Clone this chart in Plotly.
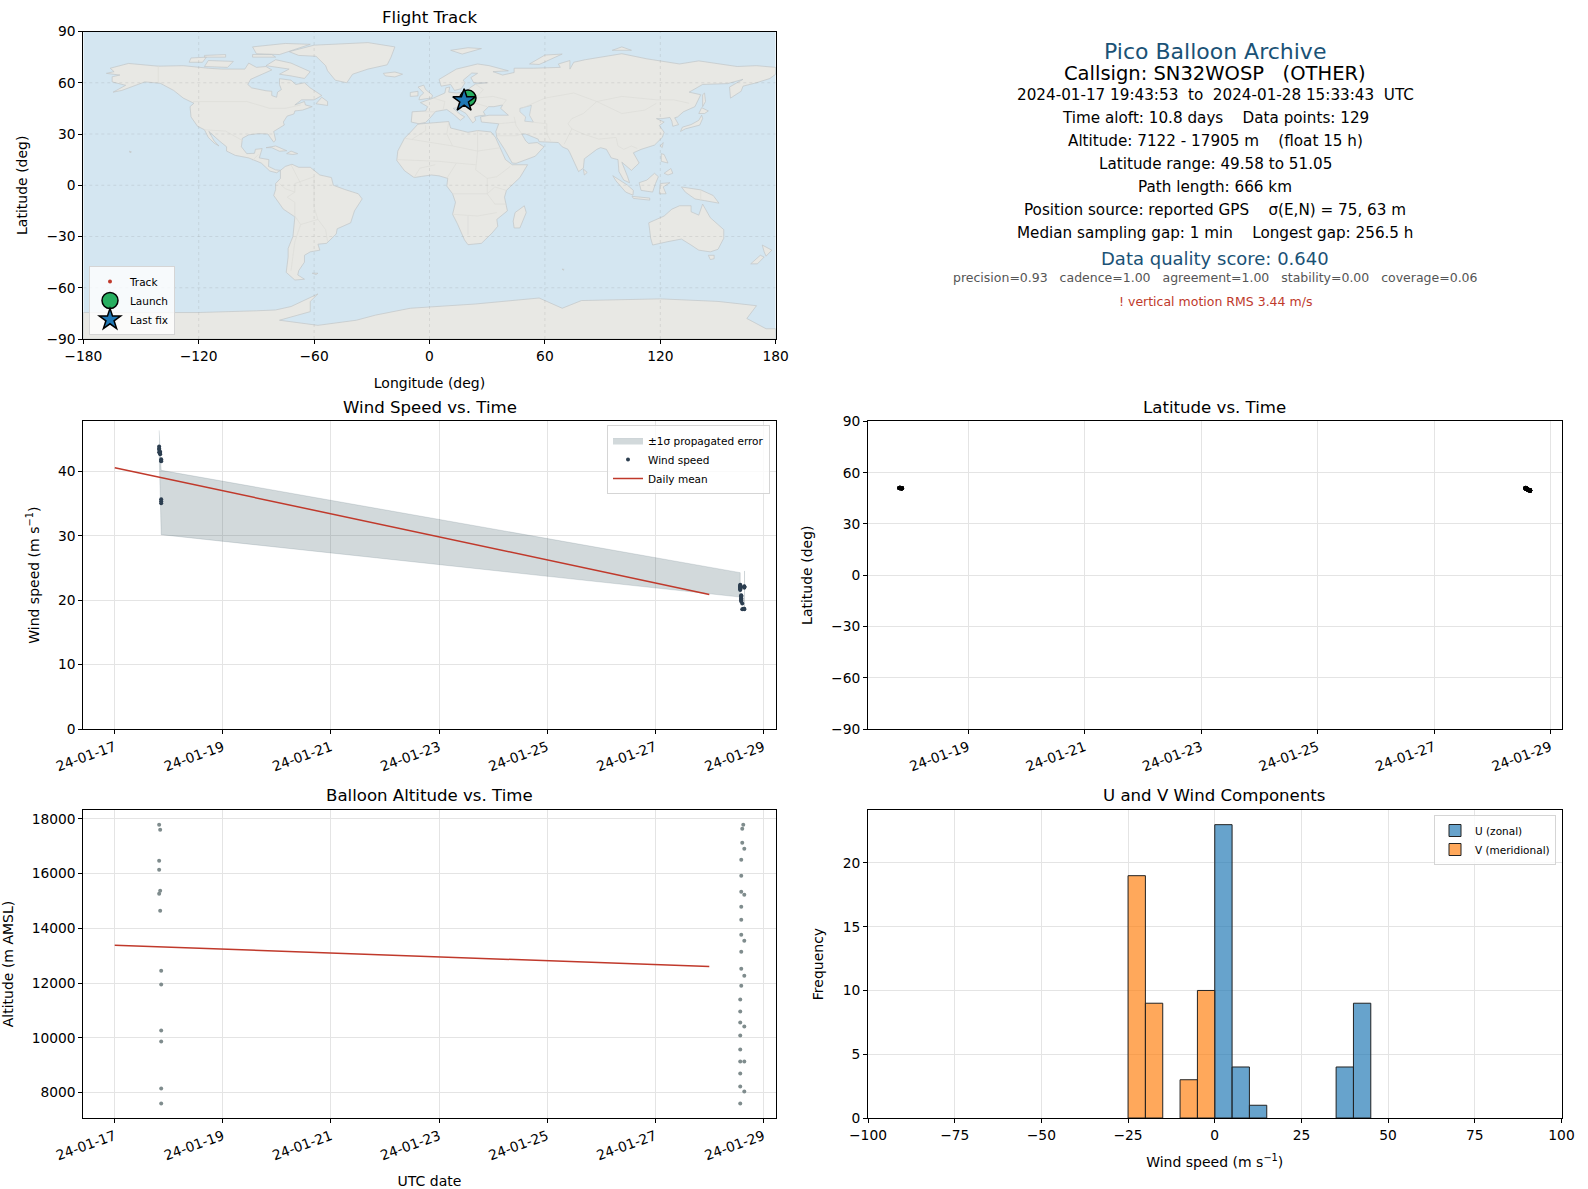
import plotly.graph_objects as go

# times of the fixes, two bursts at each end of the flight
left_times = ["19:43", "20:10", "19:43", "19:43", "20:10", "19:43", "20:10",
              "20:37", "20:37", "20:37", "20:37", "20:37", "20:37"]
right_times = ["15:06", "14:39", "14:39", "15:33", "14:12", "14:12", "14:12", "15:33",
               "14:12", "14:12", "14:12", "15:33", "14:12", "14:12", "15:33", "14:12",
               "13:45", "13:45", "13:45", "15:33", "13:45", "13:45", "13:45", "15:33",
               "13:45", "13:45", "15:33", "13:45"]
times = ["2024-01-17 " + t for t in left_times] + ["2024-01-28 " + t for t in right_times]

wind_speed = [43.0, 42.7, 43.9, 43.6, 42.9, 43.4, 43.1, 41.9, 41.7, 41.6, 35.7, 35.4, 35.1,
              18.7, 19.5, 18.6, 18.6, 20.8, 20.5, 20.2, 18.7, 20.0, 19.8, 20.6, 22.1, 20.3, 20.1,
              22.0, 20.7, 22.4, 22.3, 22.0, 22.2, 21.8, 21.6, 22.1, 22.1, 22.2, 21.9, 22.0, 21.7]
altitude = [17781, 17600, 16467, 16139, 15372, 15263, 14642, 12453, 11942, 10263, 9861, 8146, 7600,
            17781, 17635, 17124, 16905, 16504, 15920, 15336, 15226, 14788, 14314, 13766, 13547,
            13146, 12526, 12270, 11905, 11394, 10956, 10555, 10409, 10080, 9569, 9131, 9131,
            8693, 8219, 8036, 7600]
latitude = [51.0, 51.0, 51.05, 51.05, 51.0, 51.03, 50.98, 50.95, 50.95, 50.93, 50.95, 50.92, 50.9,
            49.7, 50.0, 50.1, 49.58, 50.5, 50.45, 50.5, 49.6, 50.4, 50.5, 50.55, 49.62, 50.5, 50.45,
            49.6, 50.5, 50.95, 51.0, 50.9, 49.65, 50.95, 50.85, 50.9, 49.6, 50.95, 51.0, 49.62, 50.9]
longitude = [20.0, 20.0, 20.1, 20.1, 20.0, 20.1, 20.0, 19.9, 19.9, 19.9, 19.8, 19.8, 19.8,
             18.5, 18.5, 18.6, 18.0, 18.8, 18.8, 18.8, 18.1, 18.9, 18.9, 18.8, 18.1, 18.8, 18.9,
             18.1, 18.9, 19.0, 19.0, 19.1, 18.2, 19.1, 19.1, 19.0, 18.2, 19.0, 19.1, 18.2, 19.1]

launch_lon, launch_lat = [20.0], [51.0]
last_lon, last_lat = [18.0], [49.6]

mean_days = ["2024-01-17", "2024-01-28"]
mean_wind = [40.6, 20.9]
mean_alt = [13380, 12600]

band_t = ["2024-01-17 19:43", "2024-01-17 20:10", "2024-01-17 20:37", "2024-01-28 13:45"]
band_hi = [46.4, 44.0, 40.2, 24.3]
band_lo = [43.0, 36.0, 30.2, 20.5]
sliver_t = ["2024-01-28 15:25", "2024-01-28 15:40"]
sliver_hi = [24.5, 24.5]
sliver_lo = [18.6, 18.6]

wind_ticks = ["2024-01-17", "2024-01-19", "2024-01-21", "2024-01-23", "2024-01-25", "2024-01-27", "2024-01-29"]
lat_ticks = wind_ticks[1:]

u_centers = [2.5, 7.5, 12.5, 37.5, 42.5]
u_counts = [23, 4, 1, 4, 9]
v_centers = [-22.5, -17.5, -7.5, -2.5]
v_counts = [19, 9, 3, 10]

info_lines = [
    ("Pico Balloon Archive", 22, "#1a5276", 51),
    ("Callsign: SN32WOSP   (OTHER)", 19.5, "black", 73),
    ("2024-01-17 19:43:53  to  2024-01-28 15:33:43  UTC", 15.2, "black", 95),
    ("Time aloft: 10.8 days    Data points: 129", 15.2, "black", 118),
    ("Altitude: 7122 - 17905 m    (float 15 h)", 15.2, "black", 141),
    ("Latitude range: 49.58 to 51.05", 15.2, "black", 164),
    ("Path length: 666 km", 15.2, "black", 187),
    ("Position source: reported GPS    σ(E,N) = 75, 63 m", 15.2, "black", 210),
    ("Median sampling gap: 1 min    Longest gap: 256.5 h", 15.2, "black", 233),
    ("Data quality score: 0.640", 18, "#1a5276", 258),
    ("precision=0.93   cadence=1.00   agreement=1.00   stability=0.00   coverage=0.06", 12.5, "#555555", 278),
    ("! vertical motion RMS 3.44 m/s", 12.5, "#c0392b", 301),
]

# rough coastlines, lon/lat pairs
land = [
    [(-168,65.5),(-164,66.5),(-166,68.5),(-156.5,71.3),(-141,69.7),(-128,70),(-115,68.5),(-108,68),(-96,68),(-94,71.5),(-90,69),(-85,69.5),(-82,67.5),(-87,65),(-93,62),(-94.5,59),(-92.5,57),(-85,55.3),(-82,55),(-82,52.5),(-79.5,51.5),(-79,54.5),(-77,56),(-78,59),(-78,62.4),(-72,61.5),(-69.5,59),(-65,60),(-62,57),(-56,52.5),(-60,50),(-66.5,50),(-70,47),(-65,49),(-64.5,47),(-61,46),(-66,44),(-70,43.5),(-70.5,41.7),(-74,40.5),(-76,37),(-75.5,35.3),(-81,31.5),(-80,26.5),(-81,25.2),(-82.8,28),(-84,30),(-89,30.2),(-94,29.5),(-97.3,27.5),(-97.8,22.5),(-95,18.5),(-91,18.7),(-90.5,21),(-87,21.5),(-88.5,16),(-83.5,15),(-83.7,11),(-80,9),(-77.5,8.7),(-79.5,7.3),(-83,8.3),(-87.5,13),(-94,16),(-101,17.5),(-105.5,20),(-105.5,22.5),(-109,25.7),(-112.5,29.5),(-114.7,31.5),(-112,26),(-109.5,23),(-112,24.7),(-115,28),(-117,32.5),(-120.6,34.5),(-124,40),(-124.5,46),(-122.5,48),(-128,51),(-133,55.5),(-140,59.7),(-148,60.5),(-154,58),(-160,55.5),(-164.5,54.5),(-158,58.5),(-165,60.5),(-165,63.5),(-161,64.5)],
    [(-73,78.2),(-60,82),(-32,83.5),(-18,81),(-20,75),(-22,70.5),(-32,68),(-40,65),(-43,60),(-49,61.5),(-53,67),(-54,70),(-59,75.5),(-68,76)],
    [(-80,73.5),(-72,71.5),(-62,66.5),(-65,62.5),(-72,64),(-78,65),(-73,68),(-85,70)],
    [(-117,69.5),(-105,69),(-102,72.5),(-115,73)],
    [(-90,77),(-78,76.5),(-62,82.5),(-75,83),(-92,81)],
    [(-125,72),(-118,72),(-116,75),(-124,74.5)],
    [(-92,75),(-80,75),(-82,76.5),(-92,76.5)],
    [(-117,75),(-106,75),(-106,76.5),(-117,76)],
    [(-59,47.7),(-53,46.7),(-53,49),(-56,51.5)],
    [(-85,22),(-80,23),(-74.2,20.2),(-78,19.9),(-82,22)],
    [(-74.3,18.5),(-72,20),(-68.5,18.5),(-71,18)],
    [(-24,65.5),(-18,66.3),(-14,65),(-18,63.4),(-23,64)],
    [(-77.5,8.7),(-75,11),(-71.5,12.3),(-68,10.5),(-62,10.5),(-57,6),(-51,4.5),(-50,0),(-44,-2.5),(-37,-5),(-35,-8),(-39,-15),(-41,-22),(-48,-25.5),(-48.5,-28.5),(-53.5,-34),(-58,-34.5),(-57,-38),(-62,-39),(-65,-41),(-65,-45),(-68,-50),(-68.5,-52.5),(-65,-55),(-70,-55.5),(-74.5,-51),(-73.5,-42),(-73.5,-37),(-71,-30),(-70,-18.5),(-76,-14),(-81,-6),(-80,-2.5),(-80,1),(-77.5,4)],
    [(-6,35.8),(3,36.8),(10,37.3),(11,33.5),(15,32.3),(20,31),(25,32),(32,31.2),(34.3,28),(37,21),(39.5,15),(43,12),(51,12),(47,4.5),(40,-3),(39,-7),(40.5,-15),(35,-20),(35.5,-24),(32.5,-28),(27,-34),(20,-34.8),(18.2,-32),(14.5,-22.5),(12,-17),(13.5,-10),(12,-5),(9,-0.5),(9.5,4),(5,5.5),(1,6),(-4,5.2),(-8,4.5),(-13,8.5),(-17,14.5),(-16.5,20),(-13,27.5),(-9.5,31.5)],
    [(49.3,-12),(50.3,-16),(47,-25),(44,-25),(43.5,-21),(44.5,-16)],
    [(-9.5,37),(-9,43),(-2,43.5),(-1,46),(-4.7,48.4),(2,51),(8,54),(8.5,57),(10.5,57.5),(10,54.5),(14,54),(19,54.5),(21,57),(24,59.3),(30,60),(23,60),(21.5,63),(25,65.5),(22,65.7),(17.5,61.5),(18.5,60),(16.5,56.5),(13,55.5),(11,59),(6,58),(5,62),(14,68),(25,71),(31,70),(41,67),(33,66.5),(38,64.5),(44,66),(44,68.5),(54,68.5),(68,69),(67,71),(73,73),(73,68),(75,72),(81,73.5),(100,77),(113,74),(130,71),(140,72.8),(160,69.5),(170,70),(180,69),(180,65),(177,62.5),(170,60),(163,58),(162,55),(156.5,51),(156,57.5),(163,62),(155,59.5),(142,59),(135,54.5),(141,53),(138,46),(132,43),(129,40),(127.5,39.5),(129.5,35.5),(126.5,34.5),(126,37.5),(125,39.7),(121,39),(118,39),(122,37),(119.5,35),(122,31),(121,28),(117,23.5),(110,21),(106,19),(109,13),(105,8.7),(100,13.5),(103,5),(104,1.5),(101,3),(98.5,8),(98,15),(94.5,16),(92,21),(89,22),(87,21),(80.5,15.5),(80,10),(77.5,8),(73,19),(72,21),(69,22.5),(67,25),(57,25.5),(56.5,27),(50,30),(48,30),(50,26),(51.5,24.5),(56,25),(59.5,22.5),(55,17),(45,12.8),(43,13),(39,21),(35,28),(34.5,31.5),(36,36),(30,36.5),(27,37),(26.5,40),(31,41),(41,41),(37,45),(38,47),(33.5,46),(30.7,46),(28,43),(29,41),(26,40.7),(23.5,40),(24,38),(22.5,36.5),(19.5,41),(19,42),(14,45.3),(12.3,45),(16,41.5),(18.3,40),(16,38),(12.5,41.5),(9,44.3),(3.2,43.2),(0,39),(-2,36.8),(-5.5,36)],
    [(-5.5,50),(1.3,51.2),(1.5,52.8),(-2,56),(-3,58.6),(-6,57.5),(-3,54),(-5,52)],
    [(-10,52),(-6,52.3),(-6,55),(-10,54.3)],
    [(11,79),(20,80.5),(27,80),(17,76.8)],
    [(52,71),(57,70.7),(69,76.8),(60,76.2)],
    [(95,79),(105,79),(100,81)],
    [(142,46),(143.5,49),(143,54),(142,53)],
    [(130.5,31.5),(131.5,34),(136,35.5),(140,38),(141.5,41),(142,39),(140.5,35.2),(136,33.7),(133,33)],
    [(140,42),(141.5,45.4),(145,43.5),(143,42)],
    [(120,23),(121.5,25),(121,22)],
    [(80,9.5),(82,7.5),(80.5,6)],
    [(120.5,18.5),(122,18),(124,13),(120.5,14)],
    [(122,7),(125.5,9.8),(126.5,7),(124,6)],
    [(109,1.5),(113,3),(117,7),(119,5),(117.5,1),(116,-4),(110,-3)],
    [(95.3,5.6),(103,0),(106,-3),(105.8,-5.8),(102,-4),(97,2.5)],
    [(105.3,-6.5),(114.5,-7.5),(114.5,-8.7),(106,-7.7)],
    [(119.5,-5),(120,1),(125,1.5),(121.5,-1),(123,-5)],
    [(131,-1),(137,-2),(141,-2.7),(147.5,-6),(150.5,-10.5),(143,-9),(138,-8),(133,-4)],
    [(114,-22),(122,-18),(126,-14),(130,-12),(136,-12),(136,-15.5),(140,-17.5),(142,-11),(146,-19),(153,-26),(153,-31),(150,-37.5),(146,-39),(140,-38),(136,-35),(131,-31.5),(124,-33),(116,-35),(115,-31)],
    [(145,-41),(148,-41),(148,-43),(146,-43.5)],
    [(173,-35),(178,-38),(175,-41.5),(174,-39)],
    [(172,-41),(174,-42),(170.5,-46),(167,-46)],
    [(-156,20),(-155,19.5),(-155.7,19)],
    [(-61,-51.5),(-58,-51.5),(-59,-52.3)],
    [(69,-49),(70,-49.3),(69.5,-49.8)],
    [(-180,-74.5),(-120,-74.5),(-90,-73.5),(-80,-73),(-72,-71),(-62,-66),(-58,-63.6),(-62,-68),(-62,-74),(-78,-79),(-58,-82),(-38,-79),(-28,-76),(-10,-72),(24,-69.5),(57,-66),(69,-72),(79,-67.5),(120,-66.5),(150,-68),(170,-70.5),(165,-78),(175,-84),(180,-84),(180,-90),(-180,-90)],
]
inland_water = [
    [(47,45),(53,46.8),(52,41),(54,37),(49.5,37.5),(50,40),(47,43)],
]
borders = [
    [(-123,49),(-95,49),(-83,45),(-75,45),(-67,47)],
    [(-141,70),(-141,60)],
    [(-117,32.5),(-106,31.7),(-97,26)],
    [(-92,14.5),(-89,18)],
    [(-70,-18),(-70,-10),(-74,-7),(-70,-4),(-70,1),(-60,5),(-60,-13),(-58,-20),(-54,-26),(-53,-33)],
    [(-70,-18),(-67,-23),(-70,-33),(-72,-50)],
    [(-67,-23),(-58,-20)],
    [(-78,1),(-75,-2),(-70,-4)],
    [(-72,12),(-67,1)],
    [(-9,27),(-2,32),(-2,35)],
    [(-13,27.5),(12,23),(25,20),(37,22)],
    [(10,37),(9,30),(12,23)],
    [(25,32),(25,20),(24,9),(30,4),(35,5),(42,11)],
    [(-17,15),(5,14),(14,13),(24,12)],
    [(-8,4.5),(-5,10),(3,12)],
    [(9,4),(14,13)],
    [(12,-5),(30,-5),(30,4)],
    [(12,-17),(25,-18),(35,-16)],
    [(20,-29),(20,-18)],
    [(40,-3),(34,-1),(30,-5),(34,-11),(40,-11)],
    [(-2,43),(3,43)],
    [(2,51),(8,49),(7,44)],
    [(14,54),(15,48),(24,48),(30,46)],
    [(24,59),(28,56),(24,51),(33,52),(40,50),(38,47)],
    [(48,45),(60,51),(75,54),(87,49),(100,52),(118,50),(127,50),(135,48)],
    [(53,37),(61,36),(61,30),(63,26)],
    [(48,30),(45,35),(44,40)],
    [(36,36),(45,37)],
    [(35,29),(45,29),(48,30)],
    [(72,36),(74,33),(70,24)],
    [(74,33),(80,30),(88,27),(97,28),(98,23),(101,21),(105,23),(108,21.5)],
    [(87,49),(80,42),(74,39),(72,36)],
    [(87,49),(100,42),(112,44),(118,48)],
    [(141,-2.7),(141,-9)],
]

# pixel boxes of the panels in the 1588x1189 page
W, H = 1588, 1189
boxes = {
    "map": (83.3, 775.7, 31.5, 339),
    "wind": (83.3, 775.7, 421.4, 729),
    "lat": (868, 1561.5, 421.4, 729),
    "alt": (83.3, 775.7, 810, 1118),
    "hist": (868, 1561.5, 810, 1118),
}


def dom(name):
    x0, x1, y0, y1 = boxes[name]
    return [x0 / W, x1 / W], [1 - y1 / H, 1 - y0 / H]


def rings(polys):
    xs, ys = [], []
    for p in polys:
        xs += [q[0] for q in p] + [p[0][0], None]
        ys += [q[1] for q in p] + [p[0][1], None]
    return xs, ys


def lines(polys):
    xs, ys = [], []
    for p in polys:
        xs += [q[0] for q in p] + [None]
        ys += [q[1] for q in p] + [None]
    return xs, ys


fig = go.Figure()
GRID = "#e4e4e4"
FONT = "DejaVu Sans"

# map panel
land_x, land_y = rings(land)
fig.add_trace(go.Scatter(x=land_x, y=land_y, mode="lines", fill="toself", fillcolor="#e8e8e4",
                         line=dict(color="#c2c6c7", width=0.7), hoverinfo="skip", showlegend=False))
water_x, water_y = rings(inland_water)
fig.add_trace(go.Scatter(x=water_x, y=water_y, mode="lines", fill="toself", fillcolor="#d4e6f1",
                         line=dict(color="#c2c6c7", width=0.6), hoverinfo="skip", showlegend=False))
bx, by = lines(borders)
fig.add_trace(go.Scatter(x=bx, y=by, mode="lines", line=dict(color="#dcdcd8", width=0.7),
                         hoverinfo="skip", showlegend=False))
# grid sits over the land in the original
grid_x, grid_y = [], []
for lon in [-120, -60, 0, 60, 120]:
    grid_x += [lon, lon, None]
    grid_y += [-90, 90, None]
for lat in [-60, -30, 0, 30, 60]:
    grid_x += [-180, 180, None]
    grid_y += [lat, lat, None]
fig.add_trace(go.Scatter(x=grid_x, y=grid_y, mode="lines",
                         line=dict(color="rgba(120,120,120,0.22)", width=0.7, dash="dot"),
                         hoverinfo="skip", showlegend=False))
fig.add_trace(go.Scatter(x=longitude, y=latitude, mode="markers", name="Track",
                         marker=dict(color="#c0392b", size=4), legend="legend"))
fig.add_trace(go.Scatter(x=launch_lon, y=launch_lat, mode="markers", name="Launch",
                         marker=dict(color="#27ae60", size=16, line=dict(color="black", width=1.5)),
                         legend="legend"))
fig.add_trace(go.Scatter(x=last_lon, y=last_lat, mode="markers", name="Last fix",
                         marker=dict(color="#1f77b4", size=17, symbol="star", line=dict(color="black", width=1.5)),
                         legend="legend"))

# wind panel
fig.add_trace(go.Scatter(x=band_t + band_t[::-1], y=band_hi + band_lo[::-1], mode="lines", fill="toself",
                         fillcolor="rgba(50,80,90,0.22)", line=dict(color="rgba(50,80,90,0.14)", width=1),
                         name="±1σ propagated error", xaxis="x2", yaxis="y2", legend="legend2"))
fig.add_trace(go.Scatter(x=sliver_t + sliver_t[::-1], y=sliver_hi + sliver_lo[::-1], mode="lines", fill="toself",
                         fillcolor="rgba(50,80,90,0.22)", line=dict(color="rgba(50,80,90,0.14)", width=1),
                         showlegend=False, hoverinfo="skip", xaxis="x2", yaxis="y2"))
fig.add_trace(go.Scatter(x=times, y=wind_speed, mode="markers", name="Wind speed",
                         marker=dict(color="#2c3e50", size=4), xaxis="x2", yaxis="y2", legend="legend2"))
fig.add_trace(go.Scatter(x=mean_days, y=mean_wind, mode="lines", name="Daily mean",
                         line=dict(color="#c0392b", width=1.5), xaxis="x2", yaxis="y2", legend="legend2"))

# latitude panel
fig.add_trace(go.Scatter(x=times, y=latitude, mode="markers", marker=dict(color="black", size=4.5),
                         showlegend=False, xaxis="x3", yaxis="y3"))

# altitude panel
fig.add_trace(go.Scatter(x=times, y=altitude, mode="markers", marker=dict(color="#7f8c8d", size=4),
                         showlegend=False, xaxis="x4", yaxis="y4"))
fig.add_trace(go.Scatter(x=mean_days, y=mean_alt, mode="lines", line=dict(color="#c0392b", width=1.5),
                         showlegend=False, xaxis="x4", yaxis="y4"))

# histogram panel
fig.add_trace(go.Bar(x=u_centers, y=u_counts, width=5, name="U (zonal)",
                     marker=dict(color="rgba(31,119,180,0.68)", line=dict(color="#222222", width=1)),
                     xaxis="x5", yaxis="y5", legend="legend3"))
fig.add_trace(go.Bar(x=v_centers, y=v_counts, width=5, name="V (meridional)",
                     marker=dict(color="rgba(255,127,14,0.68)", line=dict(color="#222222", width=1)),
                     xaxis="x5", yaxis="y5", legend="legend3"))

axis_style = dict(showline=True, mirror=True, linecolor="black", linewidth=1, ticks="outside", ticklen=4,
                  tickcolor="black", showgrid=True, gridcolor=GRID, gridwidth=1, zeroline=False,
                  automargin=False, tickfont=dict(size=13.8, color="black"))
map_axis = {k: v for k, v in axis_style.items() if k != "showgrid"}
label = dict(font=dict(size=14, color="black"))

xd, yd = dom("map")
fig.update_layout(
    xaxis=dict(domain=xd, anchor="y", range=[-180, 180], tickvals=[-180, -120, -60, 0, 60, 120, 180],
               title=dict(text="Longitude (deg)", **label), showgrid=False, **map_axis),
    yaxis=dict(domain=yd, anchor="x", range=[-90, 90], tickvals=[-90, -60, -30, 0, 30, 60, 90],
               title=dict(text="Latitude (deg)", **label), showgrid=False, **map_axis),
)
xd, yd = dom("wind")
fig.update_layout(
    xaxis2=dict(domain=xd, anchor="y2", range=["2024-01-16 10:02", "2024-01-29 05:30"], tickvals=wind_ticks,
                tickformat="%y-%m-%d", tickangle=-20, **axis_style),
    yaxis2=dict(domain=yd, anchor="x2", range=[0, 47.8], tickvals=[0, 10, 20, 30, 40],
                title=dict(text="Wind speed (m s<sup>−1</sup>)", **label), **axis_style),
)
xd, yd = dom("lat")
fig.update_layout(
    xaxis3=dict(domain=xd, anchor="y3", range=["2024-01-17 06:44", "2024-01-29 04:32"], tickvals=lat_ticks,
                tickformat="%y-%m-%d", tickangle=-20, **axis_style),
    yaxis3=dict(domain=yd, anchor="x3", range=[-90, 90], tickvals=[-90, -60, -30, 0, 30, 60, 90],
                title=dict(text="Latitude (deg)", **label), **axis_style),
)
xd, yd = dom("alt")
fig.update_layout(
    xaxis4=dict(domain=xd, anchor="y4", range=["2024-01-16 10:02", "2024-01-29 05:30"], tickvals=wind_ticks,
                tickformat="%y-%m-%d", tickangle=-20, title=dict(text="UTC date", **label), **axis_style),
    yaxis4=dict(domain=yd, anchor="x4", range=[7070, 18320], tickvals=[8000, 10000, 12000, 14000, 16000, 18000],
                tickformat="d", title=dict(text="Altitude (m AMSL)", **label), **axis_style),
)
xd, yd = dom("hist")
fig.update_layout(
    xaxis5=dict(domain=xd, anchor="y5", range=[-100, 100], tickvals=[-100, -75, -50, -25, 0, 25, 50, 75, 100],
                title=dict(text="Wind speed (m s<sup>−1</sup>)", **label), **axis_style),
    yaxis5=dict(domain=yd, anchor="x5", range=[0, 24.15], tickvals=[0, 5, 10, 15, 20],
                title=dict(text="Frequency", **label), **axis_style),
)

legend_style = dict(bgcolor="rgba(255,255,255,0.8)", bordercolor="#d5d5d5", borderwidth=1,
                    font=dict(size=10.5, color="black"), tracegroupgap=0)
fig.update_layout(
    barmode="overlay",
    width=W, height=H, autosize=False,
    margin=dict(l=0, r=0, t=0, b=0, autoexpand=False),
    paper_bgcolor="white", plot_bgcolor="white",
    font=dict(family=FONT, color="black"),
    hovermode="closest",
    legend=dict(x=89 / W, y=1 - 335 / H, xanchor="left", yanchor="bottom", **legend_style),
    legend2=dict(x=770 / W, y=1 - 425 / H, xanchor="right", yanchor="top", **legend_style),
    legend3=dict(x=1556 / W, y=1 - 815 / H, xanchor="right", yanchor="top", **legend_style),
    shapes=[dict(type="rect", xref="x", yref="y", x0=-180, x1=180, y0=-90, y1=90,
                 fillcolor="#d4e6f1", line=dict(width=0), layer="below")],
)

# panel titles
titles = {"map": "Flight Track", "wind": "Wind Speed vs. Time", "lat": "Latitude vs. Time",
          "alt": "Balloon Altitude vs. Time", "hist": "U and V Wind Components"}
for key, text in titles.items():
    x0, x1, y0, y1 = boxes[key]
    fig.add_annotation(x=(x0 + x1) / 2 / W, y=1 - (y0 - 14) / H, xref="paper", yref="paper", text=text,
                       showarrow=False, xanchor="center", yanchor="middle", font=dict(size=16.6, color="black"))

# summary text block
for text, size, color, ypix in info_lines:
    fig.add_annotation(x=1215 / W, y=1 - ypix / H, xref="paper", yref="paper", text=text.replace("  ", "\u00a0\u00a0"),
                       showarrow=False, xanchor="center", yanchor="middle", font=dict(size=size, color=color))

fig.write_html("out.html", config=dict(displayModeBar=False),
               post_script="document.body.style.margin='0';document.body.style.overflow='hidden';")
